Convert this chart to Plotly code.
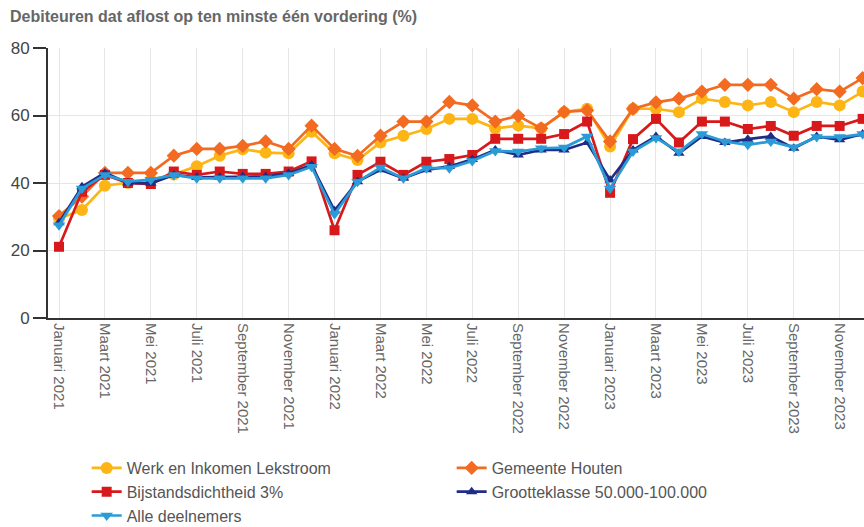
import plotly.graph_objects as go

months = ["Januari", "Februari", "Maart", "April", "Mei", "Juni", "Juli",
          "Augustus", "September", "Oktober", "November", "December"]
categories = [f"{m} {y}" for y in (2021, 2022, 2023) for m in months]

werk = [29.5, 32, 39.2, 40, 41, 42.5, 45, 48.1, 50, 49, 48.8, 55.2,
        48.8, 46.8, 52, 54, 56, 59, 59, 56.2, 57, 56.2, 61, 62,
        50.8, 62, 62, 61, 65, 64, 63, 64, 61, 64, 63, 67.1]
houten = [30.2, 36, 43, 43, 43, 48.1, 50.1, 50.1, 51, 52.3, 50.1, 57,
          50.1, 48, 54, 58.2, 58.2, 64, 63, 58.2, 59.9, 56.2, 61.1, 61.5,
          52.3, 62, 63.9, 65, 67.1, 69.1, 69.1, 69.1, 65, 67.8, 67.1, 71.1]
bijstand = [21.1, 37.4, 42.4, 40, 39.7, 43.4, 42.4, 43.4, 42.7, 42.7, 43.4, 46.4,
            26, 42.4, 46.3, 42.4, 46.3, 47.1, 48.3, 53.1, 53.1, 53.1, 54.5, 58.2,
            37.1, 53, 59, 52, 58.2, 58.2, 56, 56.9, 54, 56.9, 56.9, 59]
grootte = [28.2, 38.9, 43, 40, 39.9, 42.4, 41.7, 41.7, 41.9, 41.9, 42.9, 45.3,
           31.8, 40.4, 43.9, 41.4, 43.9, 44.9, 47, 49.8, 48.3, 49.8, 49.8, 52,
           40.9, 49.8, 53.8, 48.8, 53.8, 52, 53, 53.8, 50.3, 53.8, 52.8, 54.5]
alle = [27.5, 38.4, 42.4, 40.4, 41, 42.4, 41.4, 41.4, 41.4, 41.4, 42.4, 44.8,
        30.8, 40.4, 44.6, 41.4, 44.4, 44.4, 46.5, 49.5, 49.3, 50.3, 50.5, 53.8,
        38.4, 49.3, 53.3, 49.3, 54.5, 52.3, 51.3, 52.3, 50.6, 53.6, 53.6, 54.5]

series = [
    ("Werk en Inkomen Lekstroom", werk, "#FDB515", "circle", 12),
    ("Gemeente Houten", houten, "#F26B21", "diamond", 11),
    ("Bijstandsdichtheid 3%", bijstand, "#D7191C", "square", 10),
    ("Grootteklasse 50.000-100.000", grootte, "#1F2D86", "triangle-up", 10),
    ("Alle deelnemers", alle, "#2B9BD8", "triangle-down", 11),
]

fig = go.Figure()
for name, vals, color, sym, size in series:
    fig.add_trace(go.Scatter(
        x=categories, y=vals, name=name, mode="lines+markers",
        line=dict(color=color, width=2.7),
        marker=dict(symbol=sym, size=size, color=color),
    ))

H = 533  # slightly taller than the window; bottom few px fall outside the view
fig.update_layout(
    width=864, height=H,
    margin=dict(l=48, r=0, t=48, b=H - 318),
    paper_bgcolor="white", plot_bgcolor="white",
    font=dict(family="Liberation Sans, Arial, sans-serif", color="#555555"),
    title=dict(text="<b>Debiteuren dat aflost op ten minste één vordering (%)</b>",
               x=10 / 864, xanchor="left", y=1 - 16 / H, yanchor="middle",
               font=dict(size=16, color="#666666")),
    showlegend=True,
    legend=dict(orientation="h", x=0.0474, xanchor="left",
                yref="container", y=0.0, yanchor="bottom",
                entrywidth=320, entrywidthmode="pixels",
                font=dict(size=16, color="#555555"), tracegroupgap=0,
                itemwidth=30),
)
fig.update_xaxes(
    type="category", range=[-0.48, 35.06],
    tickvals=categories[::2], ticktext=categories[::2],
    tickangle=90, tickfont=dict(size=15, color="#666666"),
    showgrid=True, gridcolor="#e6e6e6", gridwidth=1,
    showline=True, linecolor="#333333", linewidth=2,
    ticks="", fixedrange=True, automargin=False,
)
fig.update_yaxes(
    range=[0, 80], tickvals=[0, 20, 40, 60, 80],
    tickfont=dict(size=17, color="#444444"),
    showgrid=True, gridcolor="#e6e6e6", gridwidth=1,
    showline=True, linecolor="#333333", linewidth=2,
    ticks="outside", ticklen=13, tickcolor="#333333", tickwidth=2,
    zeroline=False, automargin=False,
)
fig.write_html(
    "out.html",
    config={"displayModeBar": False},
    post_script="document.body.style.margin='0px';document.body.style.overflow='hidden';",
)
